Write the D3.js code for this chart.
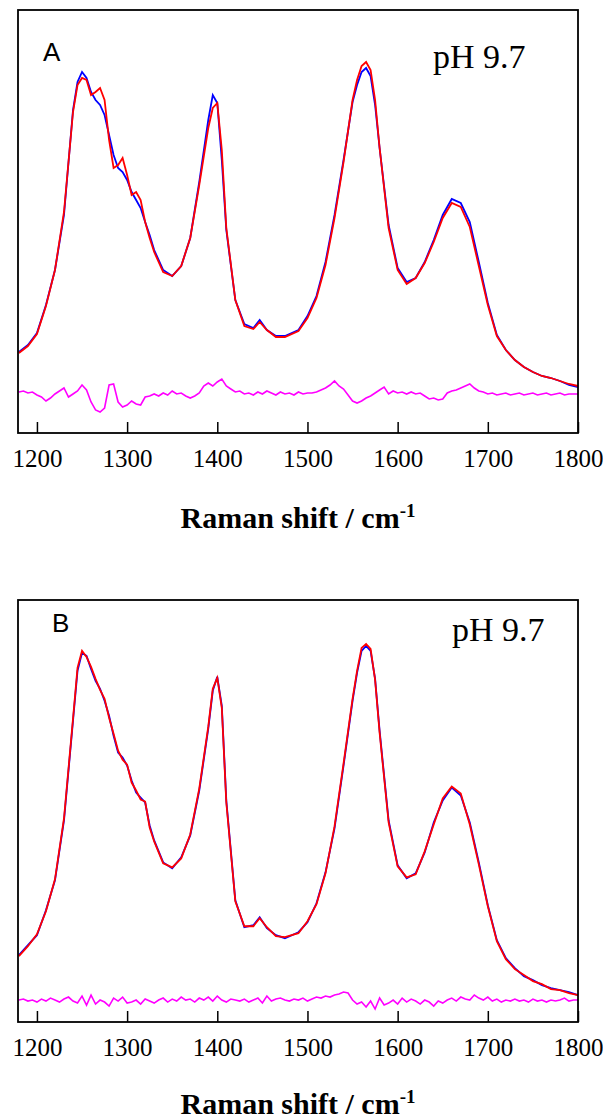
<!DOCTYPE html>
<html>
<head>
<meta charset="utf-8">
<script src="https://d3js.org/d3.v7.min.js"></script>
<style>
body { margin: 0; background: white; }
</style>
</head>
<body>
<div id="myVis"></div>
<script>

// raman shift grid (cm-1) shared by the measured spectra
const ramanShift = [1180,1190,1200,1210,1220,1230,1240,
	1245,1250,1255,1260,1265,1270,1275,1280,1285,1290,1295,1300,1305,1310,1315,1320,1325,1330,
	1340,1350,1360,1370,1380,
	1390,1395,1400,1405,1410,
	1420,1430,1440,1447,1455,1465,1475,1490,
	1500,1510,1520,1530,1540,1550,
	1555,1560,1565,1570,1575,1580,
	1590,1600,1610,1620,1630,1640,1650,1660,1670,1680,1690,1700,1710,1720,1730,1740,1750,1760,1770,1780,1790,1800]

// panel A intensities (a.u.)
const blueA = [81,88,100,128,163,218,323,
	351,361,355,341,333,328,318,298,278,265,261,253,241,233,225,211,198,183,
	163,157,167,195,251,
	313,338,330,273,203,
	133,109,105,113,103,97,97,103,
	117,137,171,218,273,331,
	348,361,365,357,328,285,
	208,165,151,155,171,193,218,234,230,211,171,130,98,83,73,66,61,57,55,52,48,46]
const redA = [80,87,99,127,163,221,321,
	348,355,353,338,341,345,333,293,265,268,275,258,238,241,233,211,195,181,
	161,157,167,195,248,
	305,325,330,283,205,
	133,107,104,111,103,96,96,102,
	115,135,168,215,271,333,
	353,367,371,363,333,285,
	205,163,149,155,170,191,215,230,226,206,167,128,97,83,73,66,61,57,55,52,49,47]

// panel B intensities (a.u.)
const blueB = [67,77,87,112,142,202,302,
	352,370,367,354,342,334,322,307,287,270,265,257,242,230,225,220,197,182,
	160,154,165,187,232,
	294,332,346,317,222,
	122,95,97,105,94,87,84,90,
	100,119,150,194,257,322,
	350,372,377,372,344,292,
	202,157,144,149,170,200,222,235,227,200,160,117,82,64,54,46,42,37,34,32,30,27]
const redB = [66,76,88,111,143,204,304,
	355,372,366,356,344,333,324,305,289,272,263,258,240,232,223,221,195,181,
	159,155,164,188,234,
	296,334,345,315,220,
	121,96,96,104,95,86,85,89,
	101,118,149,196,259,324,
	352,375,379,374,343,290,
	200,156,145,148,171,198,224,236,229,198,158,116,81,63,53,47,41,38,33,32,29,27]

// difference spectra, sampled every 5 cm-1
const diffShift = d3.range(1180, 1801, 5)
const diffA = [41,42,40,41,38,36,32,35,39,42,45,36,39,42,48,43,31,23,21,25,48,49,31,26,28,32,29,28,36,37,
	39,37,40,38,42,39,40,37,35,37,40,47,50,47,51,54,47,44,41,42,39,40,38,41,39,42,40,38,41,39,
	40,38,41,39,40,40,41,43,45,48,52,47,44,38,32,30,32,35,37,40,43,46,39,42,40,41,39,41,39,40,
	37,34,35,33,34,40,42,43,45,47,49,45,42,41,39,40,38,39,40,38,39,40,38,39,40,38,39,40,38,39,
	40,38,39,39,39]
const diffB = [22,23,21,22,20,23,21,24,22,20,23,25,21,19,26,17,27,18,22,20,16,24,21,25,19,20,22,18,23,21,
	19,22,24,20,23,21,25,22,23,20,24,22,25,21,26,22,20,23,22,21,23,20,22,24,19,26,21,23,24,22,
	21,23,22,24,21,23,25,24,26,25,27,28,30,29,22,18,20,15,21,13,24,17,19,22,18,24,20,23,21,18,
	22,20,16,21,19,22,24,21,25,23,22,27,24,22,25,21,23,20,22,21,23,21,22,20,23,21,22,20,22,21,
	22,24,21,22,22]

const tickValues = [1200,1300,1400,1500,1600,1700,1800]

const panels = [
	{letter: "A", top: 10, bottom: 433, blue: blueA, red: redA, diff: diffA, phX: 433, phY: 68, letterX: 43, letterY: 61, titleDy: 95},
	{letter: "B", top: 600, bottom: 1022, blue: blueB, red: redB, diff: diffB, phX: 452, phY: 641, letterX: 52, letterY: 632, titleDy: 92}
]

var margin = {left: 18, right: 25},
width = 603,
height = 1120

const canvas = d3.select("#myVis")
	.append("svg")
		.attr("width", width)
		.attr("height", height)
		.style("background-color", "white")

const x = d3.scaleLinear().domain([1179, 1800]).range([margin.left, width - margin.right])

panels.forEach(p => {
	const y = d3.scaleLinear().domain([0, 423]).range([p.bottom, p.top])
	const g = canvas.append("g")

	const line = d3.line()
		.x((d, i) => x(ramanShift[i]))
		.y(d => y(d))

	const diffLine = d3.line()
		.x((d, i) => x(diffShift[i]))
		.y(d => y(d))

	g.append("path")
		.attr("d", diffLine(p.diff))
		.attr("fill", "none")
		.attr("stroke", "#ff00ff")
		.attr("stroke-width", 1.6)

	g.append("path")
		.attr("d", line(p.blue))
		.attr("fill", "none")
		.attr("stroke", "#0000ff")
		.attr("stroke-width", 1.8)

	g.append("path")
		.attr("d", line(p.red))
		.attr("fill", "none")
		.attr("stroke", "#ff0000")
		.attr("stroke-width", 1.8)

	// bottom axis, ticks pointing inward
	const axis = g.append("g")
		.attr("transform", "translate(0," + p.bottom + ")")
		.call(d3.axisBottom(x).tickValues(tickValues).tickSize(-11).tickPadding(16).tickFormat(d3.format("d")))
	axis.select(".domain").remove()
	axis.selectAll("line").attr("stroke", "black").attr("stroke-width", 1.5)
	axis.selectAll("text")
		.attr("fill", "black")
		.style("font-family", "'Liberation Serif', 'Times New Roman', serif")
		.style("font-size", "25px")

	// frame
	g.append("rect")
		.attr("x", x.range()[0])
		.attr("y", p.top)
		.attr("width", x.range()[1] - x.range()[0])
		.attr("height", p.bottom - p.top)
		.attr("fill", "none")
		.attr("stroke", "black")
		.attr("stroke-width", 1.8)

	g.append("text")
		.attr("x", p.letterX)
		.attr("y", p.letterY)
		.style("font-family", "'Liberation Sans', Arial, sans-serif")
		.style("font-size", "26px")
		.text(p.letter)

	g.append("text")
		.attr("x", p.phX)
		.attr("y", p.phY)
		.style("font-family", "'Liberation Serif', serif")
		.style("font-size", "34px")
		.text("pH 9.7")

	const title = g.append("text")
		.attr("x", (x.range()[0] + x.range()[1]) / 2)
		.attr("y", p.bottom + p.titleDy)
		.attr("text-anchor", "middle")
		.style("font-family", "'Liberation Serif', serif")
		.style("font-weight", "bold")
		.style("font-size", "30px")
	title.append("tspan").text("Raman shift / cm")
	title.append("tspan")
		.attr("dy", -11)
		.style("font-size", "19px")
		.text("-1")
})

</script>
</body>
</html>
